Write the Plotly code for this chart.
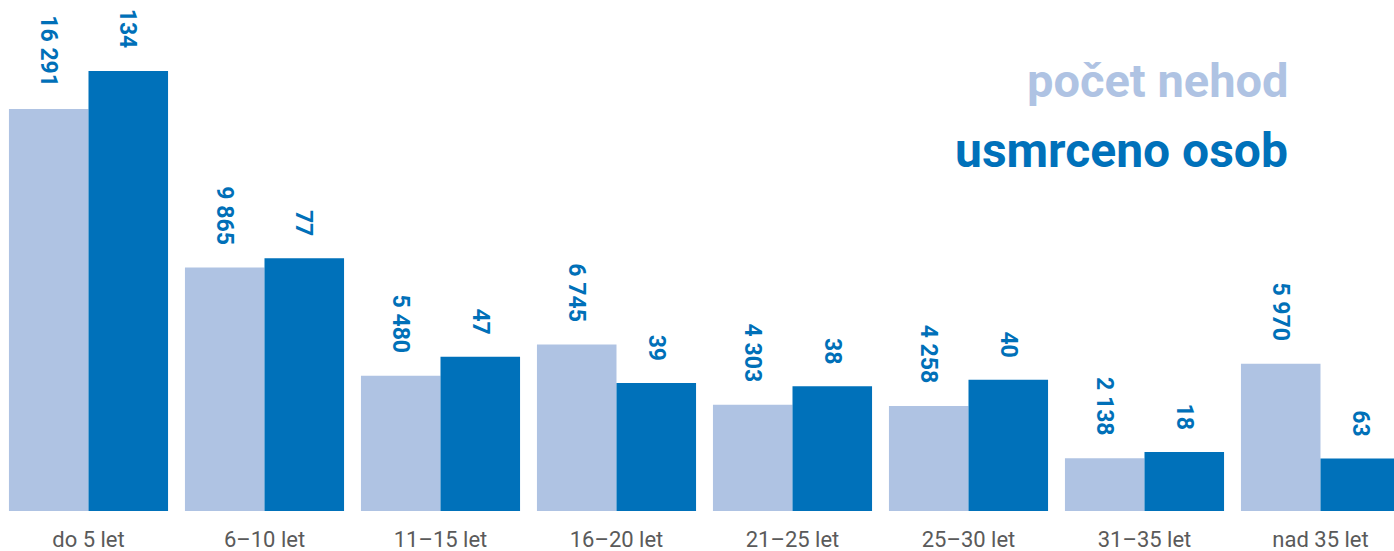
import plotly.graph_objects as go

categories = ["do 5 let", "6–10 let", "11–15 let", "16–20 let", "21–25 let", "25–30 let", "31–35 let", "nad 35 let"]
accidents = [16291, 9865, 5480, 6745, 4303, 4258, 2138, 5970]
killed = [134, 77, 47, 39, 38, 40, 18, 63]
# drawn heights of the "usmrceno osob" bars (last bar is drawn shortened)
killed_bar = [134, 77, 47, 39, 38, 40, 18, 16]

LIGHT = "#AFC3E3"
DARK = "#0071BA"
LABEL = "#0070B8"
FONT = "Roboto"

def fmt(v):
    return f"{v:,}".replace(",", " ")

xs = list(range(len(categories)))
W = 0.452

fig = go.Figure()
fig.add_trace(go.Bar(x=xs, y=accidents, width=W, offset=-W, marker=dict(color=LIGHT, line=dict(width=0)),
                     yaxis="y", name="počet nehod", hoverinfo="skip"))
fig.add_trace(go.Bar(x=xs, y=killed_bar, width=W, offset=0, marker=dict(color=DARK, line=dict(width=0)),
                     yaxis="y2", name="usmrceno osob", hoverinfo="skip"))

annotations = []
for i, v in enumerate(accidents):
    annotations.append(dict(x=i - W / 2, y=v, xref="x", yref="y", text=fmt(v), textangle=90,
                            showarrow=False, yanchor="bottom", xanchor="center", yshift=20,
                            font=dict(family=FONT, size=23, color=LABEL, weight="bold")))
for i, (v, h) in enumerate(zip(killed, killed_bar)):
    annotations.append(dict(x=i + W / 2, y=h, xref="x", yref="y2", text=fmt(v), textangle=90,
                            showarrow=False, yanchor="bottom", xanchor="center", yshift=20,
                            font=dict(family=FONT, size=23, color=LABEL, weight="bold")))

annotations.append(dict(x=1290 / 1394, y=1 - 81 / 511, xref="paper", yref="paper", text="počet nehod",
                        showarrow=False, xanchor="right", yanchor="middle",
                        font=dict(family=FONT, size=47, color=LIGHT, weight="bold")))
annotations.append(dict(x=1290 / 1394, y=1 - 150 / 511, xref="paper", yref="paper", text="usmrceno osob",
                        showarrow=False, xanchor="right", yanchor="middle",
                        font=dict(family=FONT, size=48, color=DARK, weight="bold")))

fig.update_layout(
    width=1394, height=551,
    margin=dict(l=0, r=0, t=0, b=40, autoexpand=False),
    paper_bgcolor="white", plot_bgcolor="white",
    showlegend=False,
    barmode="overlay",
    xaxis=dict(range=[-88.5 / 176, -88.5 / 176 + 1394 / 176], tickvals=xs, ticktext=categories,
               showgrid=False, zeroline=False, showline=False, ticks="", automargin=False,
               tickfont=dict(family=FONT, size=22, color="#5A5A5A"), ticklabelstandoff=13),
    yaxis=dict(range=[0, 511 * 16291 / 402], visible=False, showgrid=False, zeroline=False, automargin=False),
    yaxis2=dict(range=[0, 511 * 134 / 440], visible=False, showgrid=False, zeroline=False,
                overlaying="y", side="right", automargin=False),
    annotations=annotations,
)

fig.write_html("out.html", config={"displayModeBar": False},
               post_script="document.body.style.margin='0';document.body.style.overflow='hidden';")
